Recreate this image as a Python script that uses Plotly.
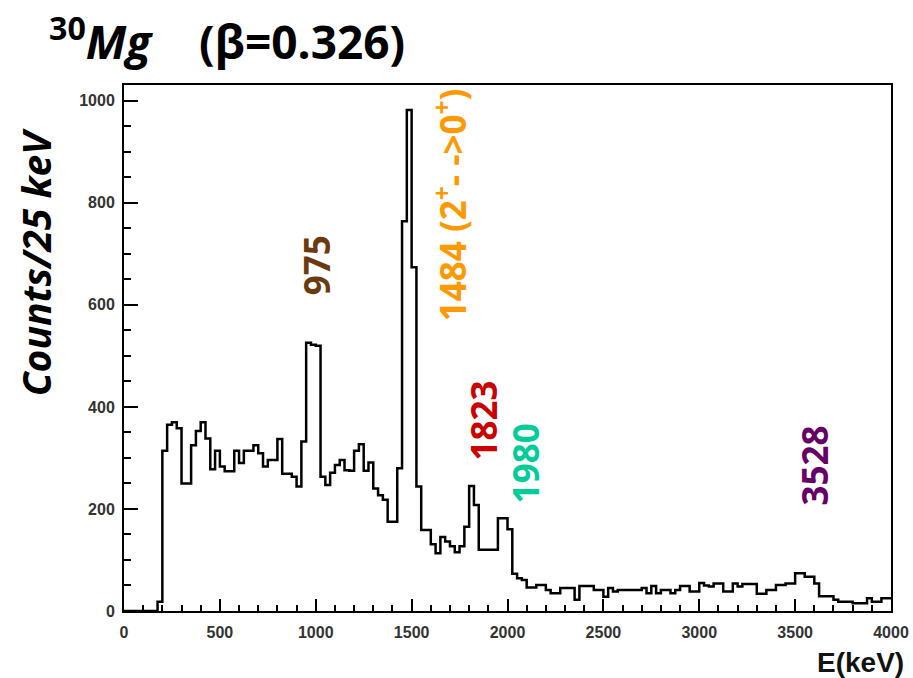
import numpy as np
import plotly.graph_objects as go

# Gamma-ray energy spectrum of 30Mg, 25 keV bins from 0 to 4000 keV
bin_width = 25
bin_low_edges = np.arange(0, 4000, bin_width)

counts = [
    0, 0, 0, 0, 0, 0, 0, 18,
    314, 365, 370, 358, 250, 250, 325, 353,
    370, 338, 278, 314, 283, 274, 274, 314,
    290, 314, 314, 325, 309, 283, 296, 296,
    337, 269, 269, 263, 244, 332, 526, 522,
    520, 263, 247, 271, 286, 296, 276, 275,
    314, 327, 275, 291, 240, 227, 218, 175,
    175, 280, 764, 982, 674, 244, 159, 159,
    131, 113, 145, 136, 127, 115, 127, 165,
    245, 208, 120, 120, 120, 120, 182, 182,
    160, 73, 64, 61, 46, 46, 51, 51,
    41, 35, 35, 45, 45, 45, 22, 49,
    49, 49, 41, 41, 28, 45, 38, 41,
    41, 41, 41, 41, 45, 35, 49, 35,
    41, 41, 35, 41, 49, 49, 38, 38,
    55, 50, 48, 54, 54, 38, 38, 54,
    48, 53, 53, 53, 34, 34, 41, 41,
    51, 51, 54, 54, 74, 74, 67, 67,
    54, 29, 29, 29, 22, 18, 18, 18,
    15, 15, 15, 25, 18, 18, 25, 25,
]

# Labelled gamma lines: text, colour, label anchor (keV, counts)
line_labels = ["975", "1484 (2<sup>+</sup>- ->0<sup>+</sup>)", "1823", "1980", "3528"]
line_colors = ["#6b3a0f", "#ff9900", "#cc0000", "#00cc99", "#660066"]
label_x = [1002, 1707, 1874, 2093, 3601]
label_y = [678, 796, 374, 290, 286]

x_ticks = [0, 500, 1000, 1500, 2000, 2500, 3000, 3500, 4000]
y_ticks = [0, 200, 400, 600, 800, 1000]

# step outline: repeat the last bin so the final step reaches 4000 keV
step_x = list(bin_low_edges) + [4000]
step_y = list(counts) + [counts[-1]]

fig = go.Figure()
fig.add_trace(go.Scatter(
    x=step_x, y=step_y, mode="lines",
    line=dict(shape="hv", color="black", width=2.5),
    hoverinfo="skip", showlegend=False,
))

label_font = "Open Sans, DejaVu Sans, sans-serif"
for text, color, lx, ly in zip(line_labels, line_colors, label_x, label_y):
    fig.add_annotation(
        x=lx, y=ly, xref="x", yref="y", text=f"<b>{text}</b>",
        textangle=-90, showarrow=False,
        font=dict(family=label_font, size=35, color=color),
    )

# title, axis titles
fig.add_annotation(
    xref="paper", yref="paper", x=-0.1, y=1.087, xanchor="left", yanchor="middle",
    text="<b><sup>30</sup><i>Mg</i>\u00a0\u00a0\u00a0\u00a0(β=0.326)</b>",
    showarrow=False, font=dict(family=label_font, size=46, color="black"),
)
fig.add_annotation(
    xref="paper", yref="paper", x=-0.116, y=0.663, xanchor="center", yanchor="middle",
    text="<b><i>Counts/25 keV</i></b>", textangle=-90,
    showarrow=False, font=dict(family=label_font, size=39, color="black"),
)
fig.add_annotation(
    xref="paper", yref="paper", x=1.02, y=-0.097, xanchor="right", yanchor="middle",
    text="<b>E(keV)</b>", showarrow=False,
    font=dict(family="Liberation Sans, Arial, sans-serif", size=28, color="#111"),
)

tick_font = dict(family="Liberation Sans, Arial, sans-serif", size=16, color="#333")

fig.update_layout(
    width=913, height=678,
    margin=dict(l=124, r=22, t=85, b=67, autoexpand=False),
    paper_bgcolor="white", plot_bgcolor="white",
    font=tick_font,
)
fig.update_xaxes(
    range=[0, 4000], tickvals=x_ticks, ticktext=[str(v) for v in x_ticks],
    ticks="inside", ticklen=12, tickwidth=2, tickcolor="black",
    minor=dict(dtick=100, ticks="inside", ticklen=6, tickwidth=2, tickcolor="black"),
    showline=True, linecolor="black", linewidth=2, mirror=True,
    showgrid=False, zeroline=False, tickfont=dict(**tick_font, weight="bold"),
    ticklabelstandoff=6, automargin=False,
)
fig.update_yaxes(
    range=[0, 1031], tickvals=y_ticks, ticktext=[str(v) for v in y_ticks],
    ticks="inside", ticklen=14, tickwidth=2, tickcolor="black",
    minor=dict(dtick=50, ticks="inside", ticklen=7, tickwidth=2, tickcolor="black"),
    showline=True, linecolor="black", linewidth=2, mirror=True,
    showgrid=False, zeroline=False, tickfont=dict(**tick_font, weight="bold"),
    ticklabelstandoff=4, automargin=False,
)

fig.write_html("out.html")
